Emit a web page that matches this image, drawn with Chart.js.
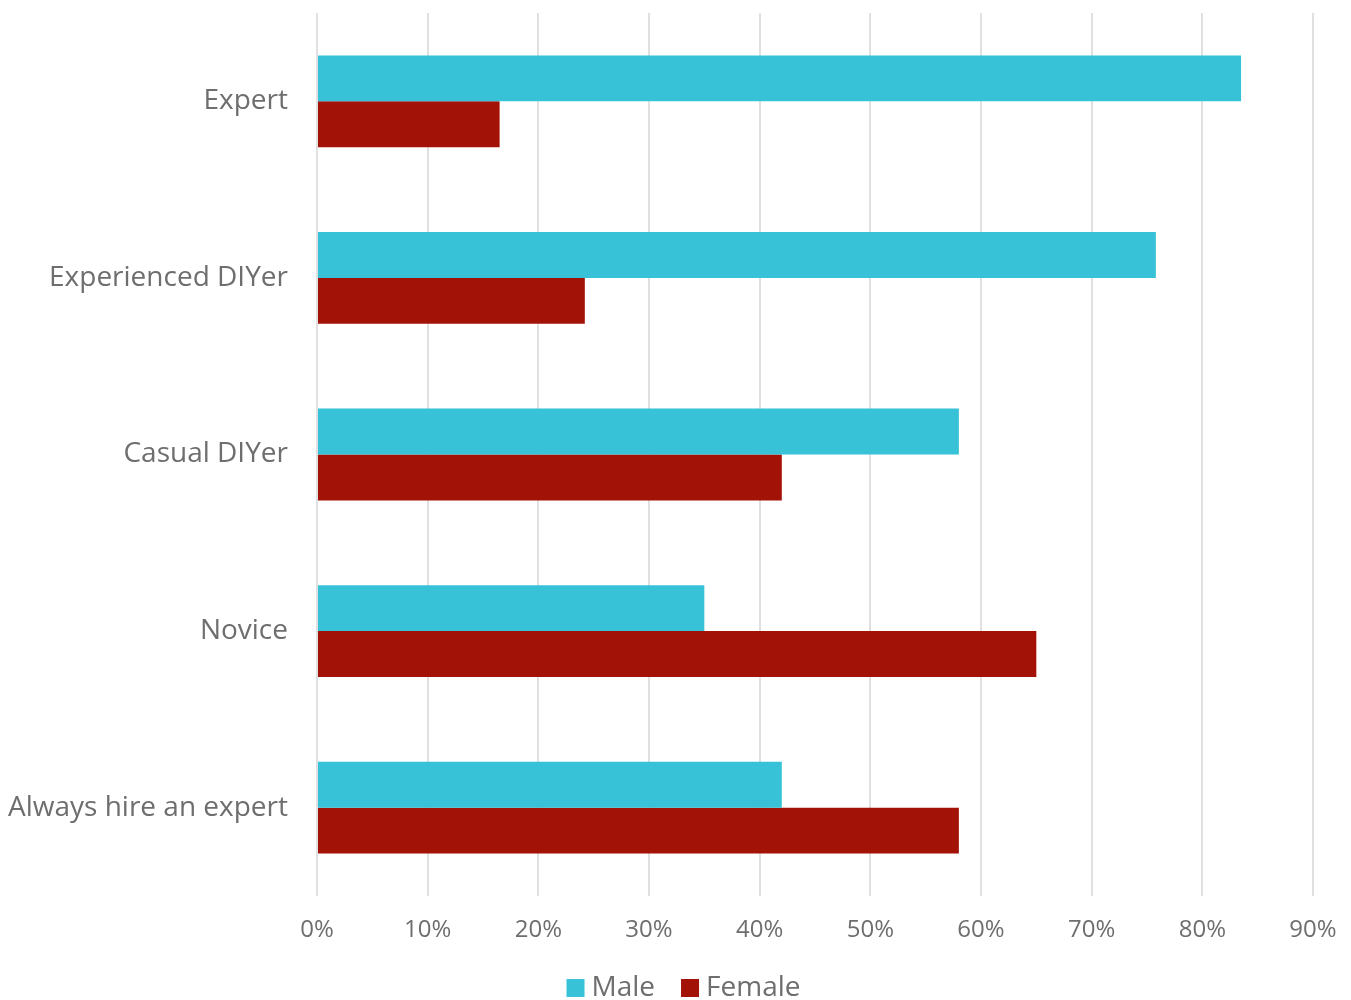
<!DOCTYPE html>
<html>
<head>
<meta charset="utf-8">
<script src="https://cdn.jsdelivr.net/npm/chart.js@4"></script>
<style>
  html, body { margin: 0; padding: 0; background: #ffffff; }
  #wrap { width: 1351px; height: 1000px; }
</style>
</head>
<body>
<div id="wrap"><canvas id="chart"></canvas></div>
<script>
// Skill level of respondents, split by gender (share in %)
const categories = ["Expert", "Experienced DIYer", "Casual DIYer", "Novice", "Always hire an expert"];
const maleValues = [83.5, 75.8, 58.0, 35.0, 42.0];
const femaleValues = [16.5, 24.2, 42.0, 65.0, 58.0];
const xTicks = [0, 10, 20, 30, 40, 50, 60, 70, 80, 90];

const textColor = "#6e6e6e";
const gridColor = "#e0e0e0";

Chart.defaults.font.family = "'Open Sans', sans-serif";
Chart.defaults.color = textColor;

// Compact legend row along the bottom edge: square swatch, short gap, label
const bottomLegend = {
  id: "bottomLegend",
  afterDraw(chart) {
    const ctx = chart.ctx;
    const boxSize = 18, textGap = 7, itemGap = 26, y = 988;
    ctx.save();
    ctx.font = "28px 'Open Sans', sans-serif";
    ctx.textBaseline = "middle";
    ctx.textAlign = "left";
    const items = chart.data.datasets.map(ds => ({
      label: ds.label,
      color: ds.backgroundColor,
      w: ctx.measureText(ds.label).width
    }));
    const total = items.reduce((s, it) => s + boxSize + textGap + it.w, 0) + itemGap * (items.length - 1);
    let x = chart.width / 2 + 8 - total / 2;
    items.forEach(it => {
      ctx.fillStyle = it.color;
      ctx.fillRect(x, y - boxSize / 2, boxSize, boxSize);
      x += boxSize + textGap;
      ctx.fillStyle = textColor;
      ctx.fillText(it.label, x, y);
      x += it.w + itemGap;
    });
    ctx.restore();
  }
};

new Chart(document.getElementById("chart"), {
  type: "bar",
  data: {
    labels: categories,
    datasets: [
      { label: "Male", data: maleValues, backgroundColor: "#37c2d7", borderWidth: 0 },
      { label: "Female", data: femaleValues, backgroundColor: "#a31206", borderWidth: 0 }
    ]
  },
  plugins: [bottomLegend],
  options: {
    indexAxis: "y",
    responsive: true,
    maintainAspectRatio: false,
    animation: false,
    categoryPercentage: 0.52,
    barPercentage: 1.0,
    layout: { padding: { top: 13, right: 0, bottom: 0, left: 0 } },
    plugins: {
      tooltip: { enabled: false },
      legend: { display: false }
    },
    scales: {
      x: {
        min: 0,
        max: 90,
        afterBuildTicks: (scale) => { scale.ticks = xTicks.map(v => ({ value: v })); },
        afterFit: (scale) => {
          scale.paddingLeft = 0;
          scale.paddingRight = 38;
          scale.height = 104;
        },
        ticks: {
          padding: 20,
          font: { size: 24 },
          color: textColor,
          callback: (v) => v + "%"
        },
        grid: { color: gridColor, lineWidth: 2, drawTicks: false },
        border: { display: false }
      },
      y: {
        afterFit: (scale) => { scale.width = 317; scale.paddingTop = 0; scale.paddingBottom = 0; },
        ticks: {
          padding: 29,
          font: { size: 28 },
          color: textColor
        },
        grid: { display: false, drawTicks: false },
        border: { display: false }
      }
    }
  }
});
</script>
</body>
</html>
